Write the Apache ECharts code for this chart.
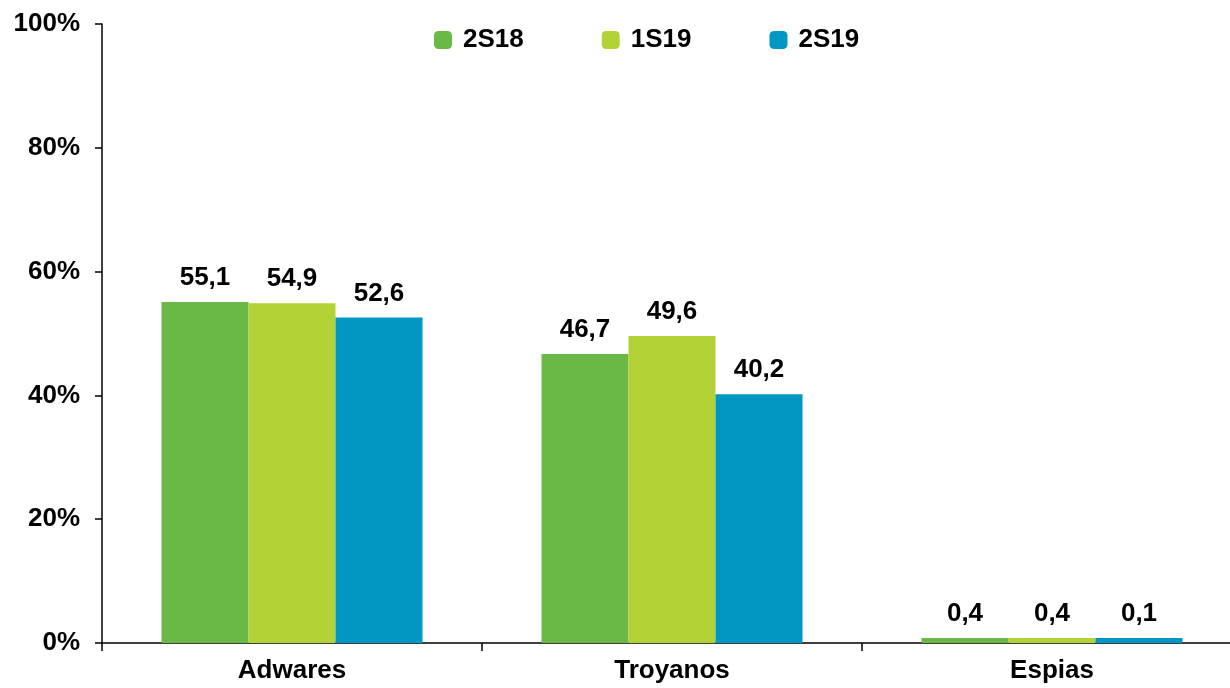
<!DOCTYPE html>
<html><head><meta charset="utf-8">
<script src="https://cdn.jsdelivr.net/npm/echarts@6/dist/echarts.min.js"></script>
<style>html,body{margin:0;padding:0;background:#fff}#c{width:1230px;height:688px}</style>
</head><body><div id="c"></div>
<script>
const categories = ['Adwares', 'Troyanos', 'Espias'];
const seriesNames = ['2S18', '1S19', '2S19'];
const s2S18 = [55.1, 46.7, 0.4];
const s1S19 = [54.9, 49.6, 0.4];
const s2S19 = [52.6, 40.2, 0.1];
const colors = ['#6AB845', '#B2D235', '#0098C3'];
const yTicks = [0, 20, 40, 60, 80, 100];

const font = 'Liberation Sans, Arial, sans-serif';
const chart = echarts.init(document.getElementById('c'));
const values = [s2S18, s1S19, s2S19];
chart.setOption({
  animation: false,
  grid: { left: 102, width: 1140, top: 24, bottom: 45, containLabel: false, outerBoundsMode: 'none' },
  legend: {
    top: 22, left: 429, itemWidth: 18, itemHeight: 18, itemGap: 78,
    icon: 'roundRect',
    textStyle: { fontFamily: font, fontSize: 26, fontWeight: 'bold', color: '#000', padding: [0, 0, 0, 6] },
    data: seriesNames
  },
  xAxis: {
    type: 'category', data: categories,
    axisLine: { lineStyle: { color: '#000', width: 1.5 } },
    axisTick: { show: true, length: 8, lineStyle: { color: '#000', width: 1.5 } },
    axisLabel: { fontFamily: font, fontSize: 26, fontWeight: 'bold', color: '#000', margin: 15 }
  },
  yAxis: {
    type: 'value', min: 0, max: 100, interval: 20,
    axisLine: { show: true, lineStyle: { color: '#000', width: 1.5 } },
    axisTick: { show: true, length: 7, lineStyle: { color: '#000', width: 1.5 } },
    splitLine: { show: false },
    axisLabel: { fontFamily: font, fontSize: 26, fontWeight: 'bold', color: '#000', margin: 22,
      formatter: v => yTicks.includes(v) ? v + '%' : '' }
  },
  series: seriesNames.map((n, i) => ({
    name: n, type: 'bar', data: values[i], barGap: '0%', barWidth: 87, barMinHeight: 5,
    itemStyle: { color: colors[i] },
    label: { show: true, position: 'top', distance: 11, fontFamily: font, fontSize: 26, fontWeight: 'bold', color: '#000',
      formatter: p => p.value.toFixed(1).replace('.', ',') }
  }))
});
</script></body></html>
